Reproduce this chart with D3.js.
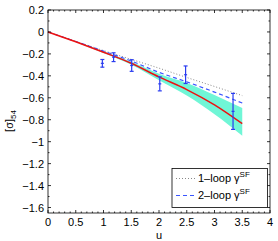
<!DOCTYPE html>
<html><head><meta charset="utf-8">
<script src="https://cdn.jsdelivr.net/npm/d3@7"></script>
<style>body{margin:0;background:#fff}svg{display:block;font-family:"Liberation Sans",Arial,sans-serif}</style>
</head><body><svg id="c" width="278" height="241"></svg>
<script>
const uGrid = [0, 0.5, 1, 1.5, 2, 2.5, 3, 3.5];
const fitCentral = [0, -0.09, -0.185, -0.285, -0.41, -0.525, -0.665, -0.836];
const bandUpper = [0, -0.088, -0.178, -0.272, -0.38, -0.465, -0.575, -0.694];
const bandLower = [0, -0.092, -0.192, -0.3, -0.44, -0.58, -0.75, -0.945];
const oneLoop = [0, -0.085, -0.17, -0.25, -0.33, -0.415, -0.497, -0.58];
const twoLoop = [0, -0.087, -0.175, -0.265, -0.368, -0.455, -0.548, -0.648];
const dataU = [0.9793, 1.1814, 1.5078, 2.0142, 2.4792, 3.3340];
const dataVal = [-0.286, -0.23, -0.306, -0.473, -0.39, -0.724];
const dataErr = [0.035, 0.04, 0.053, 0.064, 0.08, 0.164];
const xTicks = [0, 0.5, 1, 1.5, 2, 2.5, 3, 3.5, 4];
const yTicks = [0.2, 0, -0.2, -0.4, -0.6, -0.8, -1, -1.2, -1.4, -1.6];

const svg = d3.select("#c");
const L = 48, R = 270, T = 10, B = 213;
const x = d3.scaleLinear().domain([0, 4]).range([L, R]);
const y = d3.scaleLinear().domain([-1.65, 0.2]).range([B, T]);
const fmt = v => (v < 0 ? "\u2212" : "") + String(Math.abs(v));

// band
const bandData = uGrid.map((u, i) => ({u, lo: bandLower[i], hi: bandUpper[i]}));
svg.append("path").datum(bandData)
  .attr("d", d3.area().x(d => x(d.u)).y0(d => y(d.lo)).y1(d => y(d.hi)).curve(d3.curveMonotoneX))
  .attr("fill", "rgb(112,246,214)");

const lineGen = arr => d3.line().x((d, i) => x(uGrid[i])).y(d => y(d)).curve(d3.curveMonotoneX)(arr);
svg.append("path").attr("d", lineGen(oneLoop)).attr("fill", "none")
  .attr("stroke", "#888").attr("stroke-width", 1).attr("stroke-dasharray", "1,2");
svg.append("path").attr("d", lineGen(twoLoop)).attr("fill", "none")
  .attr("stroke", "#3a55ff").attr("stroke-width", 1.2).attr("stroke-dasharray", "4,3");
svg.append("path").attr("d", lineGen(fitCentral)).attr("fill", "none")
  .attr("stroke", "#ee1111").attr("stroke-width", 1.5);

// data error bars
const eb = svg.append("g").attr("stroke", "#2a3cf0").attr("stroke-width", 1.2);
dataU.forEach((u, i) => {
  const cx = x(u), y1 = y(dataVal[i] + dataErr[i]), y2 = y(dataVal[i] - dataErr[i]), cy = y(dataVal[i]);
  eb.append("line").attr("x1", cx).attr("x2", cx).attr("y1", y1).attr("y2", y2);
  eb.append("line").attr("x1", cx - 2).attr("x2", cx + 2).attr("y1", y1).attr("y2", y1);
  eb.append("line").attr("x1", cx - 2).attr("x2", cx + 2).attr("y1", y2).attr("y2", y2);
  eb.append("line").attr("x1", cx - 1.5).attr("x2", cx + 1.5).attr("y1", cy).attr("y2", cy);
});

// axes box
const ax = svg.append("g").attr("stroke", "#000").attr("stroke-width", 0.8);
ax.append("rect").attr("x", L).attr("y", T).attr("width", R - L).attr("height", B - T).attr("fill", "none");
const xMinor = d3.range(0, 4.0001, 0.1);
const yMinor = d3.range(-1.6, 0.2001, 0.1);
xMinor.forEach(v => {
  const major = Math.abs(v * 2 - Math.round(v * 2)) < 1e-6;
  const len = major ? 3 : 1.5;
  ax.append("line").attr("x1", x(v)).attr("x2", x(v)).attr("y1", B).attr("y2", B - len);
  ax.append("line").attr("x1", x(v)).attr("x2", x(v)).attr("y1", T).attr("y2", T + len);
});
yMinor.forEach(v => {
  const major = Math.abs(v * 5 - Math.round(v * 5)) < 1e-6;
  const len = major ? 3 : 1.5;
  ax.append("line").attr("x1", L).attr("x2", L + len).attr("y1", y(v)).attr("y2", y(v));
  ax.append("line").attr("x1", R).attr("x2", R - len).attr("y1", y(v)).attr("y2", y(v));
});

// tick labels
svg.append("g").selectAll("text").data(xTicks).join("text")
  .attr("x", d => x(d)).attr("y", 226).attr("text-anchor", "middle")
  .attr("font-size", 11).text(d => fmt(d));
svg.append("g").selectAll("text").data(yTicks).join("text")
  .attr("x", 44).attr("y", d => y(d) + 4).attr("text-anchor", "end")
  .attr("font-size", 11).text(d => fmt(d));

// axis labels
svg.append("text").attr("x", 159).attr("y", 239).attr("text-anchor", "middle").attr("font-size", 11).text("u");
const yl = svg.append("text").attr("transform", "translate(13,121) rotate(-90)").attr("text-anchor", "middle").attr("font-size", 11);
yl.append("tspan").text("[σ]");
yl.append("tspan").attr("font-size", 8).attr("dy", 3).text("54");

// legend
const lg = svg.append("g");
lg.append("rect").attr("x", 172).attr("y", 168.5).attr("width", 95.5).attr("height", 39)
  .attr("fill", "#fff").attr("stroke", "#000").attr("stroke-width", 0.8);
const legendItems = [
  {t: "1\u2013loop γ", c: "#888", d: "1,2", w: 1, yy: 182},
  {t: "2\u2013loop γ", c: "#3a55ff", d: "4,3", w: 1.2, yy: 199}
];
legendItems.forEach(it => {
  lg.append("line").attr("x1", 176).attr("x2", 197).attr("y1", it.yy - 3.5).attr("y2", it.yy - 3.5)
    .attr("stroke", it.c).attr("stroke-dasharray", it.d).attr("stroke-width", it.w);
  const t = lg.append("text").attr("x", 198).attr("y", it.yy).attr("font-size", 11);
  t.append("tspan").text(it.t);
  t.append("tspan").attr("font-size", 8).attr("dy", -5).text("SF");
});
</script></body></html>
